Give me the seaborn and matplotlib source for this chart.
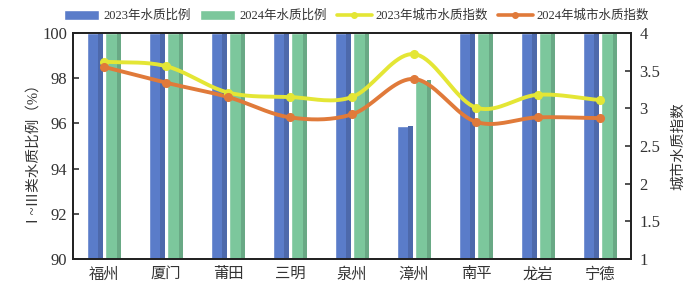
import numpy as np
import pandas as pd
import matplotlib
matplotlib.use("Agg")
import matplotlib.pyplot as plt
import seaborn as sns
from matplotlib.patches import Patch
from matplotlib.lines import Line2D

cities = ["福州", "厦门", "莆田", "三明", "泉州", "漳州", "南平", "龙岩", "宁德"]
ratio_2023 = [100, 100, 100, 100, 100, 95.9, 100, 100, 100]
ratio_2024 = [100, 100, 100, 100, 100, 97.9, 100, 100, 100]
index_2023 = [3.62, 3.56, 3.21, 3.15, 3.15, 3.72, 3.01, 3.18, 3.11]
index_2024 = [3.55, 3.34, 3.15, 2.88, 2.92, 3.39, 2.82, 2.88, 2.87]
bar_labels = ["2023年水质比例", "2024年水质比例"]
line_labels = ["2023年城市水质指数", "2024年城市水质指数"]

sns.set_theme(style="white")
plt.rcParams['font.family'] = ['Liberation Serif', 'Noto Sans CJK SC', 'DejaVu Sans']
plt.rcParams['axes.unicode_minus'] = False

c_blue = "#5a7cc9"
c_green = "#7cc79c"
c_yellow = "#e4e635"
c_orange = "#e07a3a"

df = pd.DataFrame({
    "city": cities * 2,
    "value": ratio_2023 + ratio_2024,
    "series": [bar_labels[0]] * len(cities) + [bar_labels[1]] * len(cities),
})

fig = plt.figure(figsize=(6.86, 2.91), dpi=100)
ax = fig.add_axes([0.1064, 0.110, 0.8134, 0.7766])
sns.barplot(data=df, x="city", y="value", hue="series", order=cities,
            hue_order=bar_labels, palette=[c_blue, c_green],
            width=0.6, gap=0.15, ax=ax, legend=False, saturation=1)
# darker right face for a slight 3D look
for p in ax.patches:
    fc = np.array(matplotlib.colors.to_rgb(p.get_facecolor()))
    x0 = p.get_x(); w = p.get_width(); h = p.get_height()
    ax.add_patch(plt.Rectangle((x0 + w * 0.72, p.get_y()), w * 0.28, h,
                               color=fc * 0.85, lw=0, zorder=p.get_zorder()))
ax.set_ylim(90, 100)
ax.set_xlim(-0.5, len(cities) - 0.5)
ax.set_yticks([90, 92, 94, 96, 98, 100])
ax.set_xlabel("")
ax.set_ylabel("Ⅰ~Ⅲ类水质比例（%）", fontsize=10.5, color="#333333", labelpad=6)
ax.tick_params(axis="y", direction="in", length=4, width=1.2, labelsize=12,
               colors="#333333", left=True, pad=4)
ax.tick_params(axis="x", length=0, labelsize=11, colors="#333333", pad=6)
for s in ax.spines.values():
    s.set_color("#222222")
    s.set_linewidth(1.3)

ax2 = ax.twinx()
ax2.set_ylim(1, 4)
ax2.set_yticks([1, 1.5, 2, 2.5, 3, 3.5, 4])
ax2.set_yticklabels(["1", "1.5", "2", "2.5", "3", "3.5", "4"])
ax2.tick_params(axis="y", direction="in", length=4, width=1.2, labelsize=12,
                colors="#333333", right=True, pad=6)
ax2.set_ylabel("城市水质指数", fontsize=10.5, color="#333333", labelpad=8)
for s in ax2.spines.values():
    s.set_color("#222222")
    s.set_linewidth(1.3)

def smooth(xs, ys, n=20):
    xs = np.asarray(xs, float); ys = np.asarray(ys, float)
    P = np.column_stack([xs, ys])
    P = np.vstack([P[0] - (P[1] - P[0]), P, P[-1] + (P[-1] - P[-2])])
    out = []
    t = np.linspace(0, 1, n, endpoint=False)
    for i in range(1, len(P) - 2):
        p0, p1, p2, p3 = P[i - 1], P[i], P[i + 1], P[i + 2]
        tt = t[:, None]
        seg = 0.5 * ((2 * p1) + (-p0 + p2) * tt + (2 * p0 - 5 * p1 + 4 * p2 - p3) * tt ** 2
                     + (-p0 + 3 * p1 - 3 * p2 + p3) * tt ** 3)
        out.append(seg)
    out.append(P[-2][None, :])
    out = np.vstack(out)
    return out[:, 0], out[:, 1]

xpos = np.arange(len(cities))
for vals, col in [(index_2023, c_yellow), (index_2024, c_orange)]:
    sx, sy = smooth(xpos, vals)
    sns.lineplot(x=sx, y=sy, ax=ax2, color=col, lw=2.8, sort=False, zorder=5)
    ax2.plot(xpos, vals, "o", color=col, ms=5.5, zorder=6)

handles = [
    Patch(facecolor=c_blue, label=bar_labels[0]),
    Patch(facecolor=c_green, label=bar_labels[1]),
    Line2D([0], [0], color=c_yellow, lw=2.6, marker="o", ms=4, label=line_labels[0]),
    Line2D([0], [0], color=c_orange, lw=2.6, marker="o", ms=4, label=line_labels[1]),
]
fig.legend(handles=handles, loc="center", bbox_to_anchor=(0.52, 0.945), ncol=4,
           frameon=False, fontsize=9, handlelength=2.8, handleheight=0.9,
           columnspacing=0.8, handletextpad=0.3, labelcolor="#333333")

fig.savefig("out.png", dpi=100)
